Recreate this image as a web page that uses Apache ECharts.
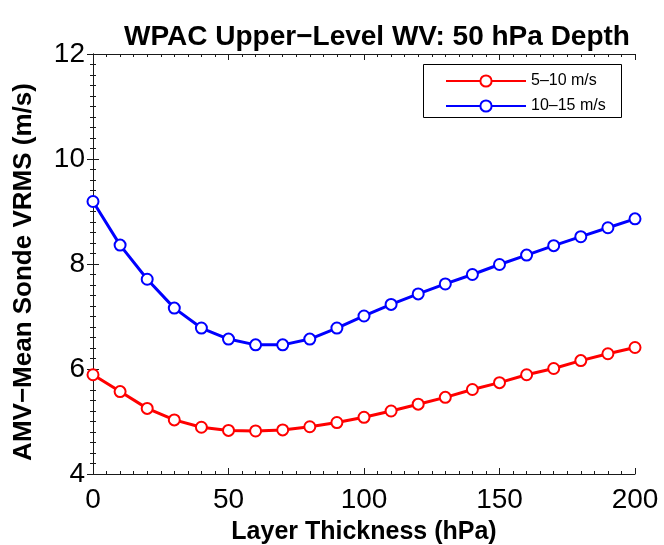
<!DOCTYPE html>
<html>
<head>
<meta charset="utf-8">
<script src="https://cdn.jsdelivr.net/npm/echarts@6/dist/echarts.min.js"></script>
<style>html,body{margin:0;padding:0;background:#fff}#c{width:664px;height:545px}</style>
</head>
<body>
<div id="c"></div>
<script>
const thickness = [0,10,20,30,40,50,60,70,80,90,100,110,120,130,140,150,160,170,180,190,200];
const slow = [5.89,5.57,5.25,5.03,4.89,4.83,4.82,4.84,4.90,4.98,5.08,5.20,5.33,5.46,5.61,5.74,5.89,6.01,6.16,6.29,6.41];
const fast = [9.19,8.36,7.71,7.16,6.78,6.57,6.46,6.46,6.57,6.78,7.01,7.23,7.43,7.62,7.80,7.99,8.17,8.35,8.52,8.69,8.86];
const seriesNames = ['5\u201310 m/s','10\u201315 m/s'];
const titleText = 'WPAC Upper\u2212Level WV: 50 hPa Depth';
const xName = 'Layer Thickness (hPa)';
const yName = 'AMV\u2212Mean Sonde VRMS (m/s)';

const FONT = 'Liberation Sans, Arial, Helvetica, sans-serif';
const axisCol = '#1a1a1a';
function pairs(xs, ys){ return xs.map((x,i)=>[x, ys[i]]); }
function tick(){ return {show:true, inside:false, length:-6, lineStyle:{color:axisCol, width:1}}; }
function minor(){ return {show:true, splitNumber:10, length:-3, lineStyle:{color:axisCol, width:1}}; }
function line(){ return {show:true, lineStyle:{color:axisCol, width:1}}; }
const chart = echarts.init(document.getElementById('c'), null, {renderer:'canvas'});
chart.setOption({
  animation:false,
  backgroundColor:'#fff',
  title:{text:titleText, left:372, textAlign:'center', top:18,
    textStyle:{fontFamily:FONT, fontSize:28, fontWeight:'bold', color:'#000'}},
  grid:{left:93, right:29, top:54, bottom:71, containLabel:false, outerBoundsMode:'none'},
  graphic:[{type:'rect', shape:{x:423.5, y:64.5, width:198, height:53},
    style:{fill:'#fff', stroke:'#000', lineWidth:1}, z:5}],
  legend:{orient:'vertical', left:440, top:68, itemWidth:80, itemHeight:14, itemGap:9,
    data:seriesNames, z:10,
    textStyle:{fontFamily:FONT, fontSize:16, color:'#000'}},
  xAxis:[{type:'value', min:0, max:200, interval:50, position:'bottom',
      name:xName, nameLocation:'middle', nameGap:46,
      nameTextStyle:{fontFamily:FONT, fontSize:25, fontWeight:'bold', color:'#000'},
      axisLine:line(), axisTick:tick(), minorTick:minor(),
      axisLabel:{fontFamily:FONT, fontSize:28, color:'#000', margin:12},
      splitLine:{show:false}},
    {type:'value', min:0, max:200, interval:50, position:'top',
      axisLine:line(), axisTick:tick(), minorTick:minor(),
      axisLabel:{show:false}, splitLine:{show:false}}],
  yAxis:[{type:'value', min:4, max:12, interval:2, position:'left',
      name:yName, nameLocation:'middle', nameGap:56, nameRotate:90,
      nameTextStyle:{fontFamily:FONT, fontSize:26, fontWeight:'bold', color:'#000', padding:[0,16,0,0]},
      axisLine:line(), axisTick:tick(), minorTick:minor(),
      axisLabel:{fontFamily:FONT, fontSize:28, color:'#000', margin:8},
      splitLine:{show:false}},
    {type:'value', min:4, max:12, interval:2, position:'right',
      axisLine:line(), axisTick:tick(), minorTick:minor(),
      axisLabel:{show:false}, splitLine:{show:false}}],
  series:[
    {name:seriesNames[0], type:'line', data:pairs(thickness, slow),
      symbol:'emptyCircle', symbolSize:11, color:'#ff0000',
      lineStyle:{width:3, color:'#ff0000'}, itemStyle:{color:'#ff0000', borderWidth:2.5, borderColor:'#ff0000'}},
    {name:seriesNames[1], type:'line', data:pairs(thickness, fast),
      symbol:'emptyCircle', symbolSize:11, color:'#0000ff',
      lineStyle:{width:3, color:'#0000ff'}, itemStyle:{color:'#0000ff', borderWidth:2.5, borderColor:'#0000ff'}}
  ]
});
</script>
</body>
</html>
